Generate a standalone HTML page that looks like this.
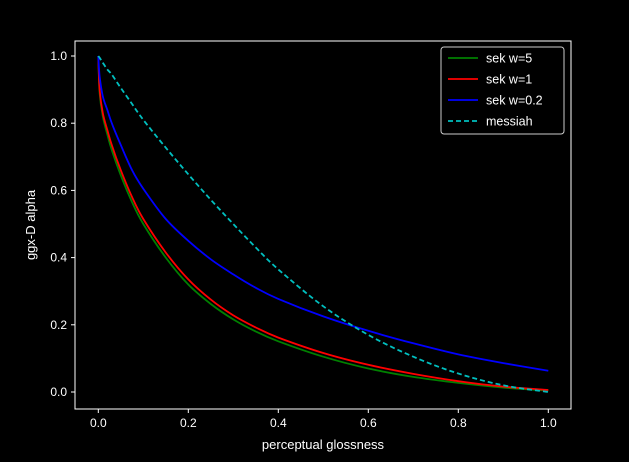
<!DOCTYPE html>
<html><head><meta charset="utf-8"><style>
body{margin:0;background:#000;}
svg{display:block;font-family:"Liberation Sans","DejaVu Sans",sans-serif;}
</style></head><body>
<svg id="chart" width="629" height="462" viewBox="0 0 629 462">
<rect width="629" height="462" fill="#000"/>
<g id="plot"></g>
</svg>
<script>
const xs      = [0,0.003,0.01,0.02,0.03,0.05,0.075,0.1,0.15,0.2,0.25,0.3,0.35,0.4,0.5,0.6,0.7,0.8,0.9,1.0];
const sekW5   = [1,0.89,0.82,0.767,0.72,0.645,0.565,0.50,0.40,0.32,0.262,0.216,0.18,0.151,0.105,0.07,0.045,0.027,0.013,0.004];
const sekW1   = [1,0.9,0.83,0.78,0.735,0.66,0.58,0.515,0.415,0.335,0.275,0.228,0.192,0.162,0.116,0.081,0.054,0.032,0.016,0.006];
const sekW02  = [1,0.94,0.88,0.84,0.80,0.735,0.66,0.605,0.515,0.45,0.395,0.35,0.31,0.277,0.225,0.182,0.145,0.112,0.086,0.063];
const messiah = [1,0.995,0.98,0.96,0.945,0.905,0.857,0.81,0.727,0.648,0.572,0.50,0.43,0.365,0.255,0.17,0.105,0.055,0.02,0];
const xTicks = [0,0.2,0.4,0.6,0.8,1.0];
const xTickLabels = ["0.0","0.2","0.4","0.6","0.8","1.0"];
const yTicks = [0,0.2,0.4,0.6,0.8,1.0];
const yTickLabels = ["0.0","0.2","0.4","0.6","0.8","1.0"];

const L=75,R=571,T=41,B=409;
const X=v=>98.3+v*450, Y=v=>392-v*336;
const ns="http://www.w3.org/2000/svg";
const g=document.getElementById('plot');
function mk(tag,attrs,parent){const e=document.createElementNS(ns,tag);for(const k in attrs)e.setAttribute(k,attrs[k]);(parent||g).appendChild(e);return e;}

const frame=mk('rect',{x:L,y:T,width:R-L,height:B-T,fill:'none',stroke:'#fff','stroke-width':1});



xTicks.forEach((t,i)=>{
  const l=mk('line',{x1:X(t),x2:X(t),y1:B,y2:B+4,stroke:'#fff'});
  
  
  const tx=mk('text',{x:X(t),y:B+18,fill:'#fff','font-size':12,'text-anchor':'middle'});
  tx.textContent=xTickLabels[i];
  
  
});
yTicks.forEach((t,i)=>{
  const l=mk('line',{x1:L-4,x2:L,y1:Y(t),y2:Y(t),stroke:'#fff'});
  
  
  const tx=mk('text',{x:L-8,y:Y(t)+4,fill:'#fff','font-size':12,'text-anchor':'end'});
  tx.textContent=yTickLabels[i];
  
  
});
const xt=mk('text',{x:(L+R)/2,y:449,fill:'#fff','font-size':13,'text-anchor':'middle'});
xt.textContent='perceptual glossness';


const yt=mk('text',{x:0,y:0,fill:'#fff','font-size':13,'text-anchor':'middle',transform:'translate(35,225) rotate(-90)'});
yt.textContent='ggx-D alpha';



const series=[
  {vals:sekW5,color:'#008000',dash:null,name:'sek w=5',id:'series-sek-w5'},
  {vals:sekW1,color:'#ff0000',dash:null,name:'sek w=1',id:'series-sek-w1'},
  {vals:sekW02,color:'#0000ff',dash:null,name:'sek w=0.2',id:'series-sek-w02'},
  {vals:messiah,color:'#00bfbf',dash:'5,3',name:'messiah',id:'series-messiah'}
];
series.forEach(s=>{
  const pts=s.vals.map((v,i)=>[X(xs[i]),Y(v)]);
  let d='M'+pts[0][0].toFixed(1)+','+pts[0][1].toFixed(1);
  for(let i=0;i<pts.length-1;i++){
    const p0=pts[Math.max(0,i-1)],p1=pts[i],p2=pts[i+1],p3=pts[Math.min(pts.length-1,i+2)];
    const c1=[p1[0]+(p2[0]-p0[0])/6,p1[1]+(p2[1]-p0[1])/6];
    const c2=[p2[0]-(p3[0]-p1[0])/6,p2[1]-(p3[1]-p1[1])/6];
    d+=' C'+c1[0].toFixed(1)+','+c1[1].toFixed(1)+' '+c2[0].toFixed(1)+','+c2[1].toFixed(1)+' '+p2[0].toFixed(1)+','+p2[1].toFixed(1);
  }
  const a={d:d,fill:'none',stroke:s.color,'stroke-width':1.8};
  if(s.dash)a['stroke-dasharray']=s.dash;
  const p=mk('path',a);
  
  
});

const lg=mk('g',{});


mk('rect',{x:441,y:47,width:123,height:87,rx:3,fill:'#000',stroke:'#ccc','stroke-width':1},lg);
series.forEach((s,i)=>{
  const y=58+i*21;
  const a={x1:448,x2:478,y1:y,y2:y,stroke:s.color,'stroke-width':1.8};
  if(s.dash)a['stroke-dasharray']=s.dash;
  const l=mk('line',a,lg);
  
  
  const t=mk('text',{x:486,y:y+4.5,fill:'#fff','font-size':12.5},lg);
  t.textContent=s.name;
  
  
});
</script>
</body></html>
